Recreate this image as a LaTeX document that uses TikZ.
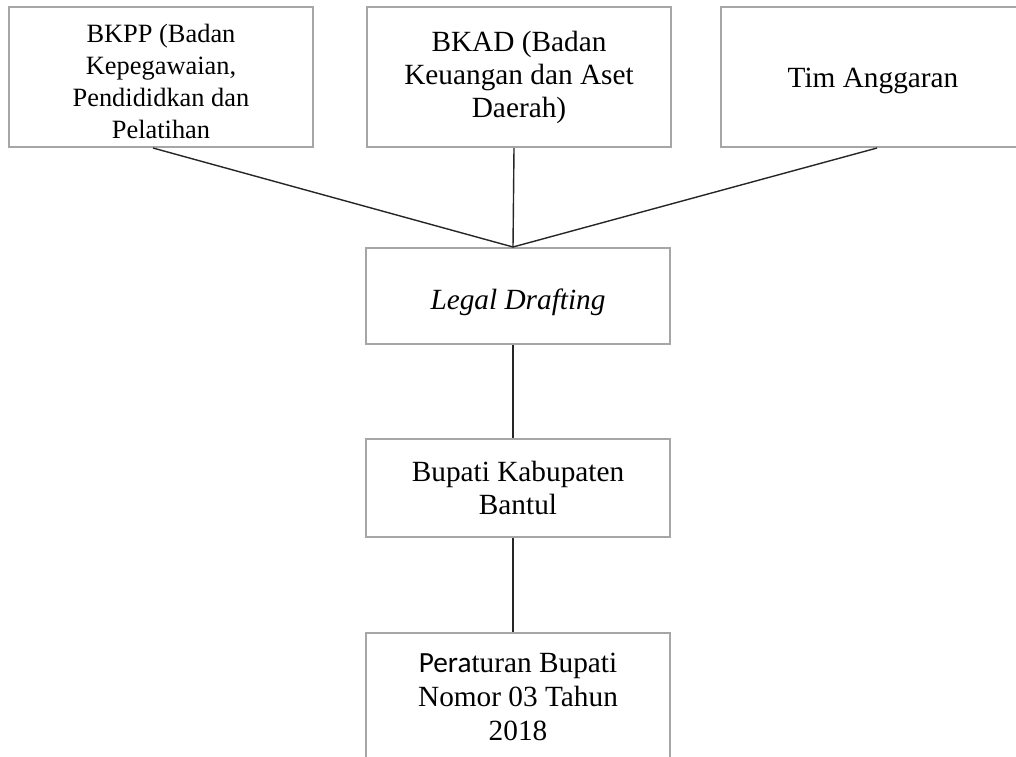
\documentclass[tikz,border=0pt]{standalone}
\usepackage{fontspec}
\setmainfont{Liberation Serif}
\newfontfamily\carlito{Carlito}
\usetikzlibrary{positioning}

\tikzset{
    kotak/.style={draw=black!35,line width=2pt,minimum width=304pt,inner sep=0pt,
        align=center,font=\fontsize{29.3}{33}\selectfont},
    garis/.style={draw=black!85,line width=1.4pt}
}

\begin{document}
\begin{tikzpicture}[x=1pt,y=-1pt]
	\clip (0,0) rectangle (1016,756);

	% baris atas
	\node[kotak,minimum height=140pt,font=\fontsize{26.4}{32}\selectfont] (bkpp) at (161,77)
		{\rule{0pt}{28pt}BKPP (Badan\\Kepegawaian,\\Pendididkan dan\\Pelatihan};
	\node[kotak,minimum height=140pt] (bkad) at (519,77) {BKAD (Badan\\Keuangan dan Aset\\Daerah)};
	\node[kotak,minimum height=140pt] (tim) at (873,77) {\rule{0pt}{28pt}Tim Anggaran};

	% alur ke bawah
	\node[kotak,minimum height=96pt] (legal) at (518,296) {\rule{0pt}{34pt}\textit{Legal Drafting}};
	\node[kotak,minimum height=98pt] (bupati) at (518,488) {Bupati Kabupaten\\Bantul};
	\node[kotak,minimum height=128pt,font=\fontsize{29.3}{34}\selectfont] (perbup) at (518,697)
		{{\carlito Pera}turan Bupati\\Nomor 03 Tahun\\2018};

	\coordinate (temu) at ([xshift=-5pt]legal.north);

	\draw[garis] ([xshift=-8pt]bkpp.south) -- (temu);
	\draw[garis] ([xshift=-5pt]bkad.south) -- (temu);
	\draw[garis] ([xshift=4pt]tim.south) -- (temu);
	\draw[garis] ([xshift=-5pt]legal.south) -- ([xshift=-5pt]bupati.north);
	\draw[garis] ([xshift=-5pt]bupati.south) -- ([xshift=-5pt]perbup.north);
\end{tikzpicture}
\end{document}
